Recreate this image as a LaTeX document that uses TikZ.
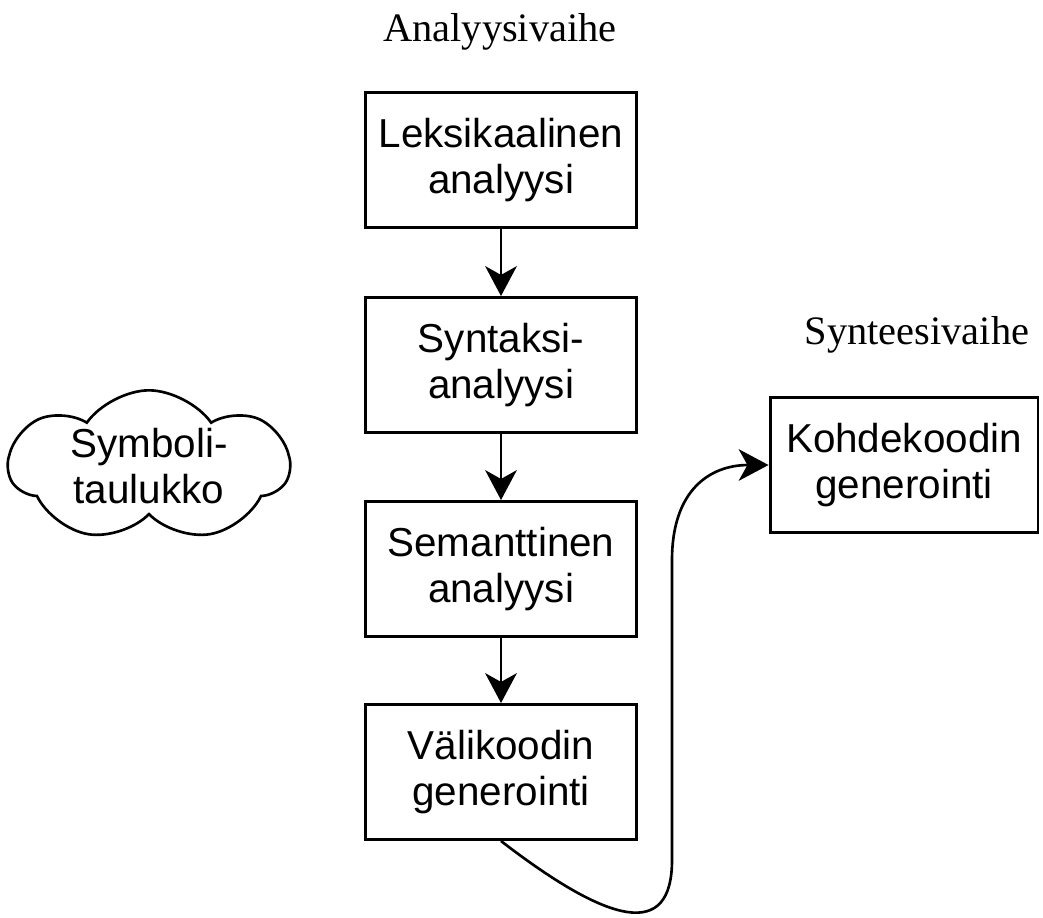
\documentclass[tikz,border=0pt]{standalone}
\usepackage{fontspec}
\setmainfont{Liberation Serif}
\newfontfamily\boxfont{Liberation Sans}
\usepackage{tikz}
\usetikzlibrary{arrows.meta,shapes.symbols}

\tikzset{
  vaihe/.style={draw, line width=1.7pt, minimum width=5.44cm, minimum height=2.7cm,
    align=center, font=\boxfont\fontsize{23}{26}\selectfont, inner sep=0pt},
  nuoli/.style={line width=1.5pt, -{Stealth[length=17pt, width=18pt, inset=5pt]}},
}

\begin{document}
\begin{tikzpicture} [ x=0.02cm, y=-0.02cm, ]
    \useasboundingbox (0,0) rectangle (1043,917);
    \node at (500,32) (analyysi) {\fontsize{23}{26}\selectfont Analyysivaihe};
    \node at (917,335) (synteesi) {\fontsize{23}{26}\selectfont Synteesivaihe};

    \node[vaihe] at (501,160) (leks) {Leksikaalinen\\analyysi};
    \node[vaihe] at (501,365) (synt) {Syntaksi-\\analyysi};
    \node[vaihe] at (501,569) (sem) {Semanttinen\\analyysi};
    \node[vaihe] at (501,772) (vali) {Välikoodin\\generointi};
    \node[vaihe, minimum width=5.36cm] at (904,465) (kohde) {Kohdekoodin\\generointi};

    \node[cloud, draw, line width=1.5pt, cloud puffs=7, cloud puff arc=110, aspect=2.3,
      minimum width=5.6cm, minimum height=2.8cm, inner sep=0pt,
      align=center, font=\boxfont\fontsize{23}{26}\selectfont] at (149,466) (symb) {Symboli-\\taulukko};

    \draw[nuoli] (leks) -- (synt);
    \draw[nuoli] (synt) -- (sem);
    \draw[nuoli] (sem) -- (vali);
    \draw[nuoli] (vali.south) .. controls (610,925) and (672,940) .. (672,860)
      -- (672,560) .. controls (672,490) and (710,465) .. (kohde.west);
\end{tikzpicture}
\end{document}
